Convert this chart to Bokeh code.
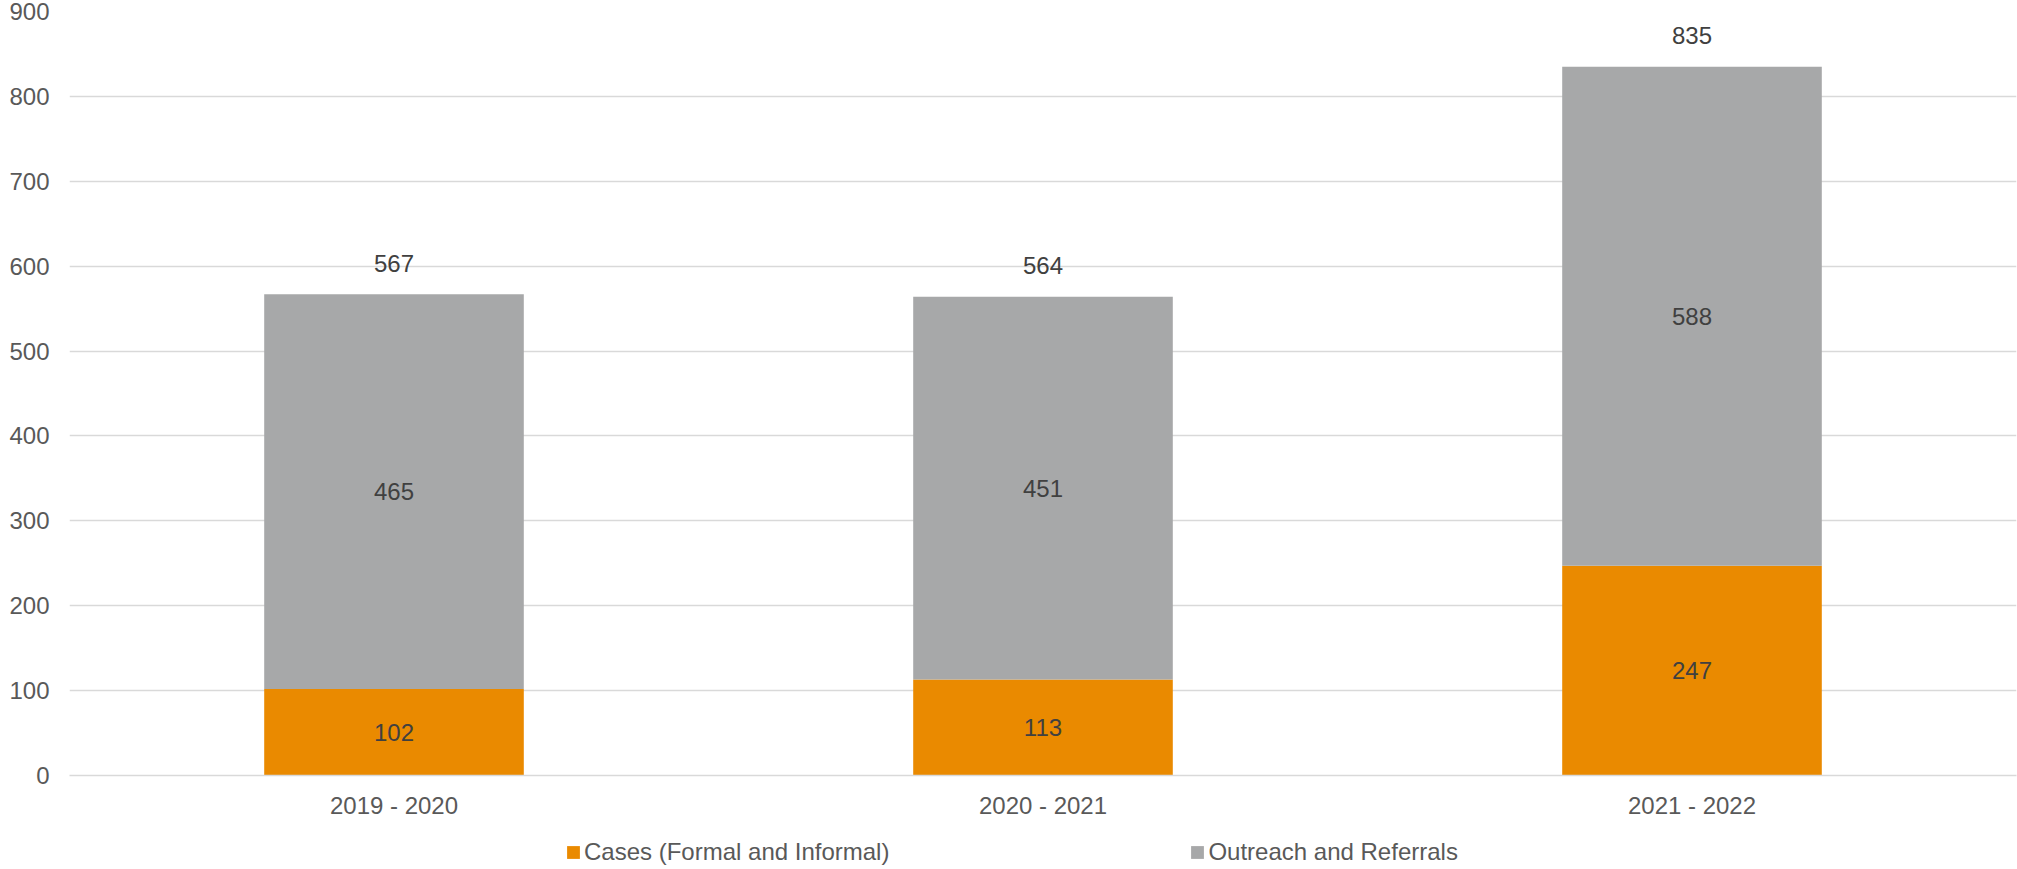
from bokeh.plotting import figure
from bokeh.layouts import column
from bokeh.models import ColumnDataSource, FactorRange, Range1d, LabelSet, Legend, LegendItem, FixedTicker
from bokeh.core.properties import value
from bokeh.embed import file_html
from bokeh.resources import INLINE

categories = ["2019 - 2020", "2020 - 2021", "2021 - 2022"]
cases = [102, 113, 247]
outreach = [465, 451, 588]
totals = [567, 564, 835]
series_names = ["Cases (Formal and Informal)", "Outreach and Referrals"]
colors = ["#EA8A00", "#A7A8A9"]
y_ticks = [0, 100, 200, 300, 400, 500, 600, 700, 800, 900]

FONT = "Liberation Sans"
FS = "24px"

src = ColumnDataSource(dict(
    cat=categories,
    cases=cases,
    outreach=outreach,
    total=totals,
    cases_mid=[c / 2 for c in cases],
    out_mid=[c + o / 2 for c, o in zip(cases, outreach)],
))

p = figure(x_range=FactorRange(*categories, range_padding=0), y_range=Range1d(0, 900),
           width=2017, height=830, output_backend="svg", toolbar_location=None,
           min_border_left=69, min_border_right=1, min_border_top=11, min_border_bottom=55)
p.outline_line_color = None
p.background_fill_color = "white"

rs = p.vbar_stack(["cases", "outreach"], x="cat", width=0.4, color=colors, line_color=None, source=src)

grid_color = "#D9D9D9"
p.xgrid.grid_line_color = None
p.ygrid.grid_line_color = grid_color
p.ygrid.grid_line_width = 1.3
p.yaxis.ticker = FixedTicker(ticks=y_ticks)
p.yaxis.axis_line_color = None
p.yaxis.major_tick_line_color = None
p.yaxis.minor_tick_line_color = None
p.yaxis.major_tick_out = 0
p.yaxis.major_tick_in = 0
p.yaxis.major_label_standoff = 20
p.yaxis.major_label_text_font = FONT
p.yaxis.major_label_text_font_size = FS
p.yaxis.major_label_text_color = "#595959"

p.xaxis.axis_line_color = grid_color
p.xaxis.axis_line_width = 1.3
p.xaxis.major_tick_line_color = None
p.xaxis.minor_tick_line_color = None
p.xaxis.major_tick_out = 0
p.xaxis.major_tick_in = 0
p.xaxis.major_label_standoff = 16
p.xaxis.major_label_text_font = FONT
p.xaxis.major_label_text_font_size = FS
p.xaxis.major_label_text_color = "#595959"

common = dict(source=src, text_align="center", text_baseline="middle",
              text_font=value(FONT), text_font_size=value(FS), text_color="#404040")
p.add_layout(LabelSet(x="cat", y="cases_mid", text="cases", **common))
p.add_layout(LabelSet(x="cat", y="out_mid", text="outreach", **common))
p.add_layout(LabelSet(x="cat", y="total", text="total", y_offset=31, **common))

# legend strip below the chart
q = figure(width=2017, height=39, output_backend="svg", toolbar_location=None,
           x_axis_location=None, y_axis_location=None,
           x_range=Range1d(0, 1), y_range=Range1d(0, 1),
           min_border_left=0, min_border_right=0, min_border_top=0, min_border_bottom=0)
q.outline_line_color = None
q.xgrid.visible = False
q.ygrid.visible = False
# off-screen placeholder renderers, used only to give the legend its swatches
lr = [q.vbar(x=[-5], top=[-5], bottom=[-6], width=0.1, color=colors[i], line_color=None) for i in range(2)]
legend = Legend(items=[LegendItem(label=series_names[i], renderers=[lr[i]]) for i in range(2)],
                orientation="horizontal", location=(496, 3),
                glyph_width=16, glyph_height=16, label_standoff=3, spacing=300,
                padding=0, margin=0, border_line_color=None, background_fill_alpha=0,
                label_text_font=FONT, label_text_font_size=FS, label_text_color="#595959")
q.add_layout(legend, "center")

layout = column(p, q, spacing=0)
open("out.html", "w").write(file_html(layout, INLINE))
